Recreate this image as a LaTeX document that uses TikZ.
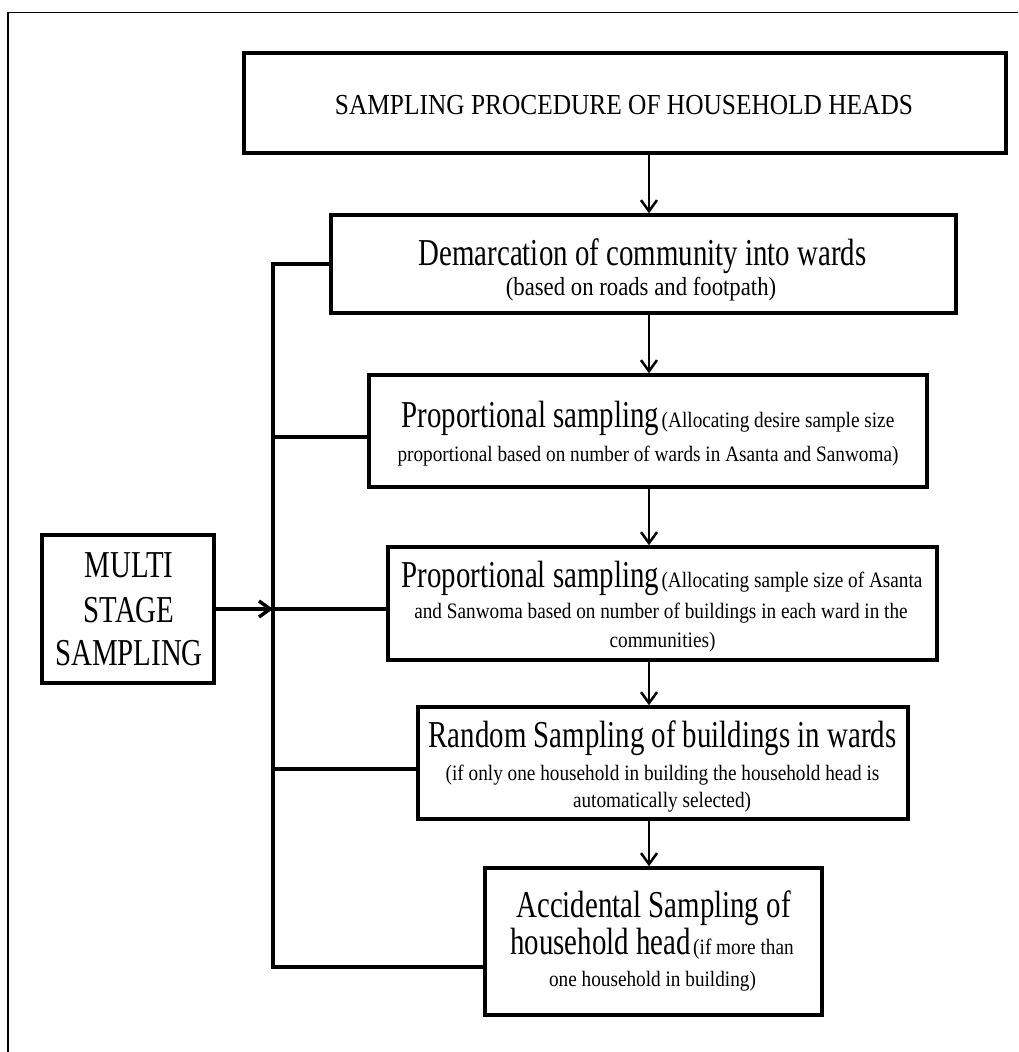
\documentclass[tikz,border=0pt]{standalone}
\usepackage{fontspec}
\setmainfont{Liberation Serif}
\newfontfamily\BigF{Liberation Serif}[FakeStretch=0.76]
\newfontfamily\SmF{Liberation Serif}[FakeStretch=0.875]
\usetikzlibrary{arrows.meta}
\newcommand\mybig{\BigF\fontsize{38}{38}\selectfont}
\newcommand\mysmall{\SmF\fontsize{22}{22}\selectfont}
\tikzset{
  box/.style={draw, line width=3.5pt, inner sep=0pt},
  txt/.style={inner sep=0pt, anchor=base},
  conn/.style={line width=3.5pt},
  arr/.style={line width=2.5pt, -{Straight Barb[length=11pt,width=16pt]}},
  frame/.style={line width=1.5pt}
}
\begin{document}
\begin{tikzpicture}[x=1pt,y=-1pt]
\useasboundingbox (0,0) rectangle (1018,1052);
\fill[white] (0,0) rectangle (1018,1052);
% outer frame (top and left edges only visible)
\draw[frame] (1018,12.7) -- (8,12.7) -- (8,1052);

% boxes
\node[box, minimum width=762pt, minimum height=100pt] (title) at (625,103) {};
\node[box, minimum width=625pt, minimum height=98pt] (dem) at (643.5,264) {};
\node[box, minimum width=558pt, minimum height=112pt] (prop1) at (648,431) {};
\node[box, minimum width=549pt, minimum height=113pt] (prop2) at (662.5,603.5) {};
\node[box, minimum width=172pt, minimum height=148pt] (multi) at (128,609) {};
\node[box, minimum width=490pt, minimum height=112pt] (rand) at (663,763) {};
\node[box, minimum width=337pt, minimum height=147pt] (acc) at (653.5,941.5) {};

% texts
\node[txt] (titleT) at (624,114) {\SmF\fontsize{29}{29}\selectfont SAMPLING PROCEDURE OF HOUSEHOLD HEADS};
\node[txt] (demA) at (642.5,265) {\mybig Demarcation of community into wards};
\node[txt] (demB) at (641,295) {\SmF\fontsize{26}{26}\selectfont (based on roads and footpath)};
\node[txt] (p1A) at (648,427) {{\mybig Proportional sampling} {\mysmall (Allocating desire sample size}};
\node[txt] (p1B) at (648,461) {\mysmall proportional based on number of wards in Asanta and Sanwoma)};
\node[txt] (p2A) at (662,587) {{\mybig Proportional sampling} {\mysmall (Allocating sample size of Asanta}};
\node[txt] (p2B) at (661,618) {\mysmall and Sanwoma based on number of buildings in each ward in the};
\node[txt] (p2C) at (662.5,647) {\mysmall communities)};
\node[txt] (mA) at (129,577) {\mybig MULTI};
\node[txt] (mB) at (129,622) {\mybig STAGE};
\node[txt] (mC) at (129,665) {\mybig SAMPLING};
\node[txt] (rA) at (662.5,747) {\mybig Random Sampling of buildings in wards};
\node[txt] (rB) at (662.5,780) {\mysmall (if only one household in building the household head is};
\node[txt] (rC) at (662,807) {\mysmall automatically selected)};
\node[txt] (aA) at (653.5,917) {\mybig Accidental Sampling of};
\node[txt] (aB) at (652,954) {{\mybig household head} {\mysmall (if more than}};
\node[txt] (aC) at (652.5,986) {\mysmall one household in building)};

% main vertical arrows
\coordinate (ax) at (649,0);
\draw[arr] (title.south -| ax) -- (dem.north -| ax);
\draw[arr] (dem.south -| ax) -- (prop1.north -| ax);
\draw[arr] (prop1.south -| ax) -- (prop2.north -| ax);
\draw[arr] (prop2.south -| ax) -- (rand.north -| ax);
\draw[arr] (rand.south -| ax) -- (acc.north -| ax);

% bus on the left
\coordinate (b1) at (273,264);
\coordinate (b2) at (273,437);
\coordinate (b3) at (273,609);
\coordinate (b4) at (273,769);
\coordinate (b5) at (273,967);
\draw[conn] (dem.west) -- (b1) -- (b5) -- (b5 -| acc.west);
\draw[conn] (b2) -- (b2 -| prop1.west);
\draw[conn] (b3) -- (b3 -| prop2.west);
\draw[conn] (b4) -- (b4 -| rand.west);
\draw[arr, line width=3.5pt] (multi.east |- b3) -- (b3);
\end{tikzpicture}
\end{document}
